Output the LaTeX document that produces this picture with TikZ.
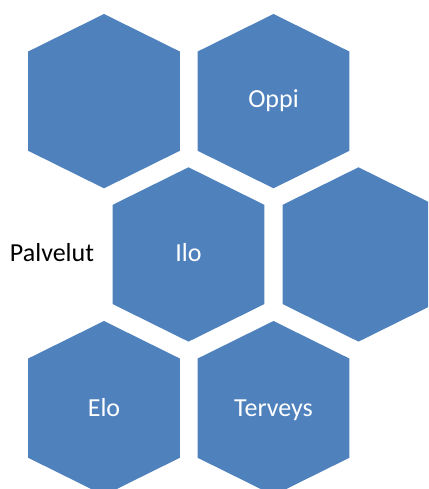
\documentclass[tikz,border=0pt]{standalone}
\usepackage{fontspec}
\setmainfont{Carlito}
\definecolor{hexblue}{HTML}{4F81BD}
\tikzset{
  hexfill/.style={fill=hexblue},
  hexlabel/.style={text=white, font=\fontsize{26}{30}\selectfont, inner sep=0pt, anchor=base},
  sidelabel/.style={text=black, font=\fontsize{26}{30}\selectfont, inner sep=0pt, anchor=base}
}
% hexagon given its centre x and top vertex y
\newcommand{\hexcell}[2]{%
  \fill[hexfill] (#1,#2) -- ++(75.8,37.5) -- ++(0,99.3) -- ++(-75.8,37.5)
    -- ++(-75.8,-37.5) -- ++(0,-99.3) -- cycle;}
\begin{document}
\begin{tikzpicture}[x=1pt,y=-1pt]
  \useasboundingbox (0,0) rectangle (428,489);
  \clip (0,0) rectangle (428,489);
  % top row
  \hexcell{104}{14}
  \hexcell{273.5}{14}
  % middle row
  \hexcell{188.5}{167.3}
  \hexcell{358.5}{167.3}
  % bottom row
  \hexcell{104}{321}
  \hexcell{273.5}{321}
  % labels
  \node[hexlabel] (oppi) at (273.5,108) {Oppi};
  \node[hexlabel] (ilo) at (188.5,261.7) {Ilo};
  \node[hexlabel] (elo) at (104,416.7) {Elo};
  \node[hexlabel] (terveys) at (273.5,416.7) {Terveys};
  \node[sidelabel] (palvelut) at (52,261.7) {Palvelut};
\end{tikzpicture}
\end{document}
